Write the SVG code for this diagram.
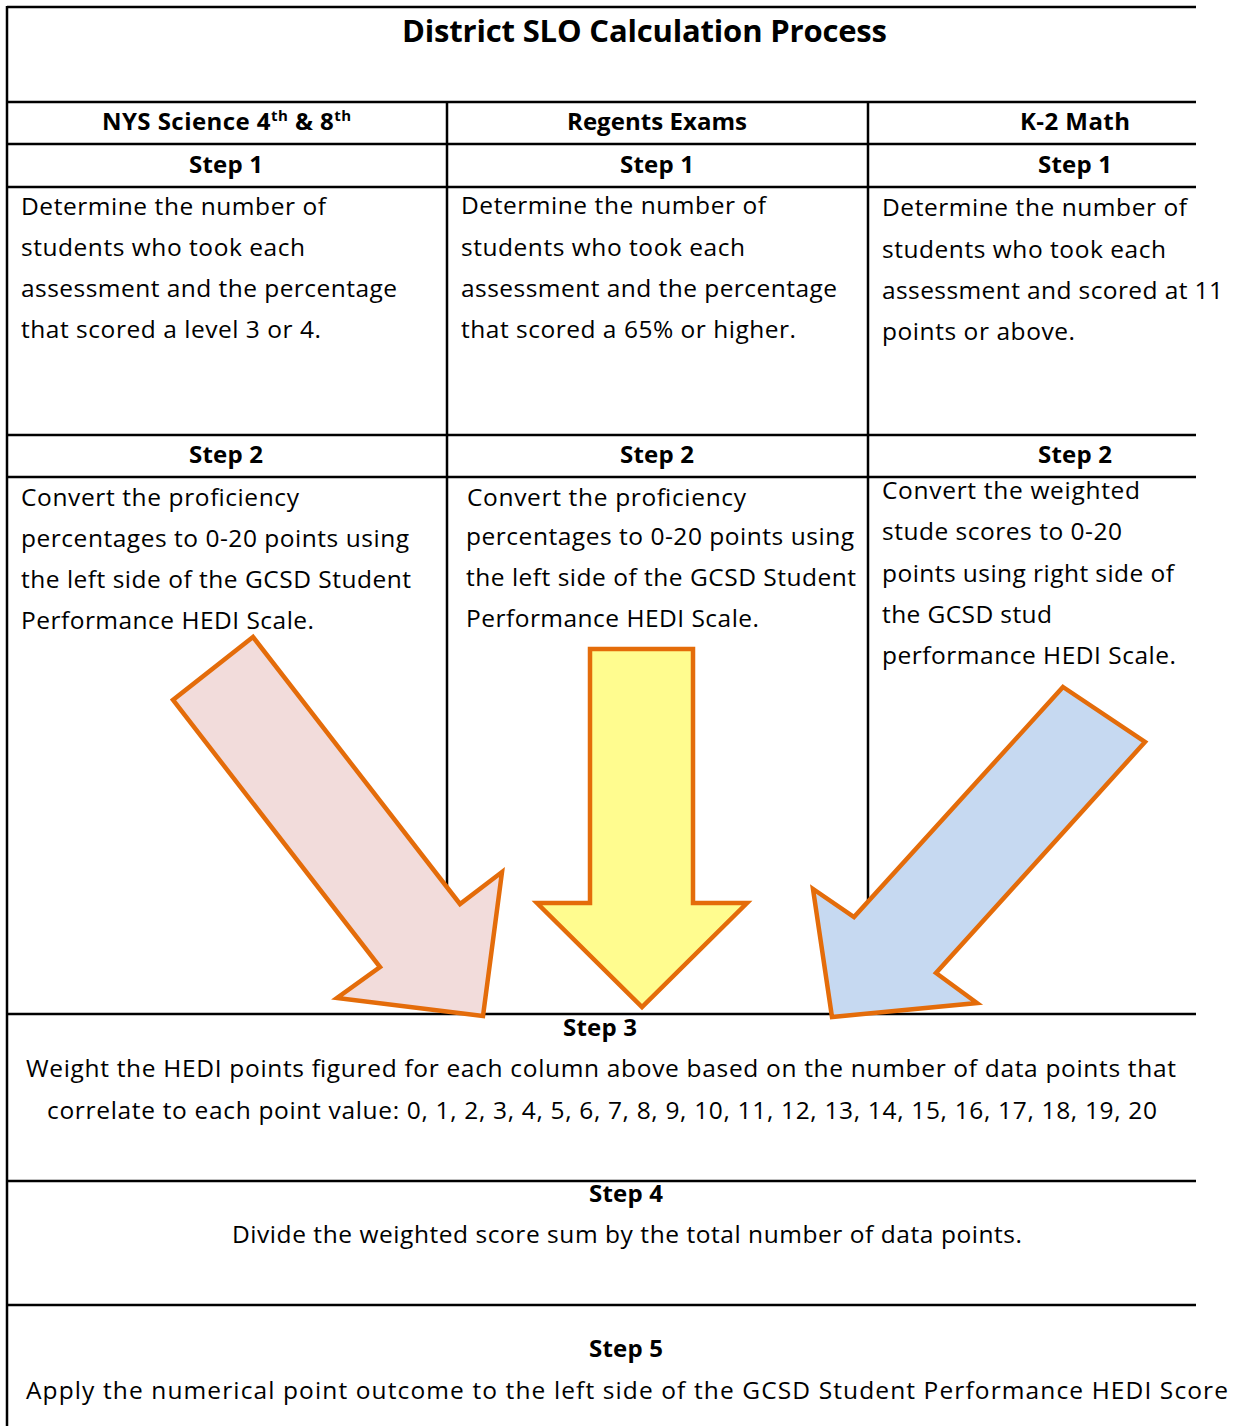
<svg xmlns="http://www.w3.org/2000/svg" width="1239" height="1426" viewBox="0 0 1239 1426">
  <style>
    .grid { stroke: #000; stroke-width: 2.5; fill: none; }
    .t { font-family: "Open Sans", "Liberation Sans", sans-serif; font-size: 24.5px; fill: #000; }
    .b { font-family: "Open Sans", "Liberation Sans", sans-serif; font-size: 24px; font-weight: bold; fill: #000; text-anchor: middle; }
    .c { text-anchor: middle; }
    .arrow { stroke: #E46C0A; stroke-width: 4.5; stroke-linejoin: miter; }
  </style>
  <rect width="1239" height="1426" fill="#fff"/>

  <!-- table rules -->
  <g id="table">
    <line class="grid" x1="7" y1="6" x2="7" y2="1426"/>
    <line class="grid" x1="7" y1="7" x2="1196" y2="7"/>
    <line class="grid" x1="7" y1="102" x2="1196" y2="102"/>
    <line class="grid" x1="7" y1="144" x2="1196" y2="144"/>
    <line class="grid" x1="7" y1="187" x2="1196" y2="187"/>
    <line class="grid" x1="7" y1="435" x2="1196" y2="435"/>
    <line class="grid" x1="7" y1="477" x2="1196" y2="477"/>
    <line class="grid" x1="7" y1="1014" x2="1196" y2="1014"/>
    <line class="grid" x1="7" y1="1181" x2="1196" y2="1181"/>
    <line class="grid" x1="7" y1="1305" x2="1196" y2="1305"/>
    <line class="grid" x1="447" y1="102" x2="447" y2="1014"/>
    <line class="grid" x1="868" y1="102" x2="868" y2="1014"/>
  </g>

  <g id="title">
    <text x="644.5" y="42" font-family="Open Sans, Liberation Sans, sans-serif" font-size="31" font-weight="bold" text-anchor="middle" textLength="485" lengthAdjust="spacing">District SLO Calculation Process</text>
  </g>

  <g id="col-science">
    <text class="b" x="226.5" y="130" textLength="249" lengthAdjust="spacing">NYS Science 4<tspan font-size="15" dy="-9">th</tspan><tspan dy="9"> &amp; 8</tspan><tspan font-size="15" dy="-9">th</tspan></text>
    <text class="b" x="226" y="173" textLength="74" lengthAdjust="spacing">Step 1</text>
    <text class="t" x="21" y="215" textLength="305" lengthAdjust="spacing">Determine the number of</text>
    <text class="t" x="21" y="256" textLength="284" lengthAdjust="spacing">students who took each</text>
    <text class="t" x="21" y="297" textLength="376" lengthAdjust="spacing">assessment and the percentage</text>
    <text class="t" x="21" y="338" textLength="300" lengthAdjust="spacing">that scored a level 3 or 4.</text>
    <text class="b" x="226" y="463" textLength="74" lengthAdjust="spacing">Step 2</text>
    <text class="t" x="21" y="506" textLength="278" lengthAdjust="spacing">Convert the proficiency</text>
    <text class="t" x="21" y="547" textLength="388" lengthAdjust="spacing">percentages to 0-20 points using</text>
    <text class="t" x="21" y="588" textLength="390" lengthAdjust="spacing">the left side of the GCSD Student</text>
    <text class="t" x="21" y="629" textLength="293" lengthAdjust="spacing">Performance HEDI Scale.</text>
  </g>

  <g id="col-regents">
    <text class="b" x="657" y="130" textLength="180" lengthAdjust="spacing">Regents Exams</text>
    <text class="b" x="657" y="173" textLength="74" lengthAdjust="spacing">Step 1</text>
    <text class="t" x="461" y="214" textLength="305" lengthAdjust="spacing">Determine the number of</text>
    <text class="t" x="461" y="256" textLength="284" lengthAdjust="spacing">students who took each</text>
    <text class="t" x="461" y="297" textLength="376" lengthAdjust="spacing">assessment and the percentage</text>
    <text class="t" x="461" y="338" textLength="335" lengthAdjust="spacing">that scored a 65% or higher.</text>
    <text class="b" x="657" y="463" textLength="74" lengthAdjust="spacing">Step 2</text>
    <text class="t" x="467" y="506" textLength="279" lengthAdjust="spacing">Convert the proficiency</text>
    <text class="t" x="466" y="545" textLength="388" lengthAdjust="spacing">percentages to 0-20 points using</text>
    <text class="t" x="466" y="586" textLength="390" lengthAdjust="spacing">the left side of the GCSD Student</text>
    <text class="t" x="466" y="627" textLength="293" lengthAdjust="spacing">Performance HEDI Scale.</text>
  </g>

  <g id="col-math">
    <text class="b" x="1075" y="130" textLength="110" lengthAdjust="spacing">K-2 Math</text>
    <text class="b" x="1075" y="173" textLength="74" lengthAdjust="spacing">Step 1</text>
    <text class="t" x="882" y="216" textLength="305" lengthAdjust="spacing">Determine the number of</text>
    <text class="t" x="882" y="258" textLength="284" lengthAdjust="spacing">students who took each</text>
    <text class="t" x="882" y="299" textLength="341" lengthAdjust="spacing">assessment and scored at 11</text>
    <text class="t" x="882" y="340" textLength="193" lengthAdjust="spacing">points or above.</text>
    <text class="b" x="1075" y="463" textLength="74" lengthAdjust="spacing">Step 2</text>
    <text class="t" x="882" y="499" textLength="258" lengthAdjust="spacing">Convert the weighted</text>
    <text class="t" x="882" y="540" textLength="240" lengthAdjust="spacing">stude scores to 0-20</text>
    <text class="t" x="882" y="582" textLength="292" lengthAdjust="spacing">points using right side of</text>
    <text class="t" x="882" y="623" textLength="170" lengthAdjust="spacing">the GCSD stud</text>
    <text class="t" x="882" y="664" textLength="294" lengthAdjust="spacing">performance HEDI Scale.</text>
  </g>

  <g id="step3">
    <text class="b" x="600" y="1036" textLength="74" lengthAdjust="spacing">Step 3</text>
    <text class="t" x="26" y="1077" textLength="1150" lengthAdjust="spacing">Weight the HEDI points figured for each column above based on the number of data points that</text>
    <text class="t" x="47" y="1119" textLength="1110" lengthAdjust="spacing">correlate to each point value: 0, 1, 2, 3, 4, 5, 6, 7, 8, 9, 10, 11, 12, 13, 14, 15, 16, 17, 18, 19, 20</text>
  </g>

  <g id="step4">
    <text class="b" x="626" y="1202" textLength="74" lengthAdjust="spacing">Step 4</text>
    <text class="t c" x="627" y="1243" textLength="790" lengthAdjust="spacing">Divide the weighted score sum by the total number of data points.</text>
  </g>

  <g id="step5">
    <text class="b" x="626" y="1357" textLength="74" lengthAdjust="spacing">Step 5</text>
    <text class="t" x="26" y="1399" textLength="1202" lengthAdjust="spacing">Apply the numerical point outcome to the left side of the GCSD Student Performance HEDI Score</text>
  </g>

  <!-- block arrows feeding into Step 3 -->
  <g id="connectors">
    <polygon class="arrow" fill="#F2DCDB" points="253,637 173,700 380,967 337,998 483,1016 502,872 460,904"/>
    <polygon class="arrow" fill="#FFFC8F" points="590,649 693,649 693,903 747,903 642,1007 537,903 590,903"/>
    <polygon class="arrow" fill="#C6D9F1" points="1063,687 1145,742 936,973 977,1003 832,1017 813,889 854,917"/>
  </g>
</svg>
